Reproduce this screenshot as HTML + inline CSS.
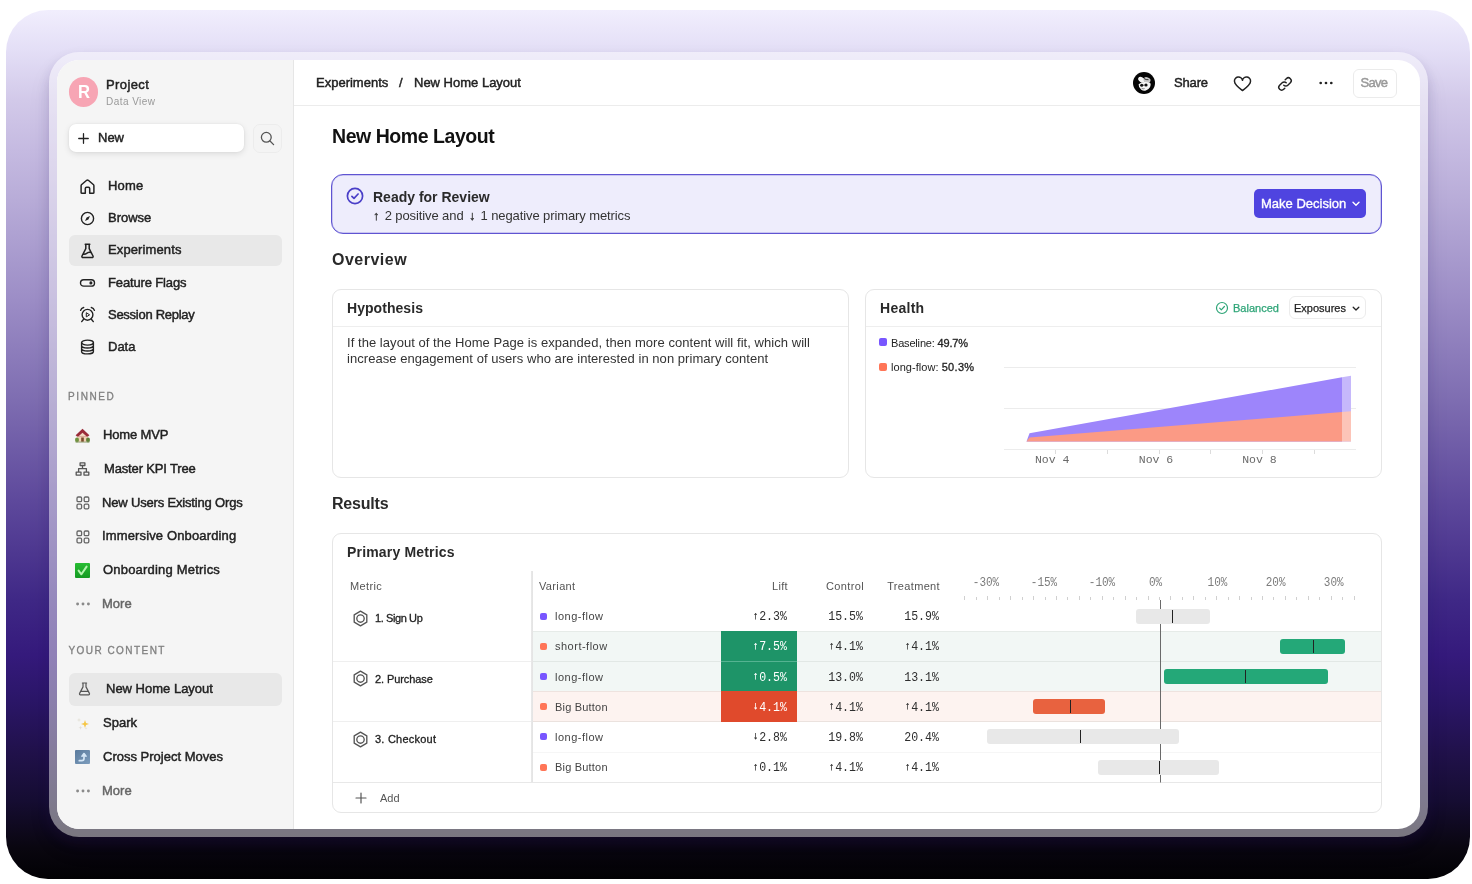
<!DOCTYPE html>
<html lang="en">
<head>
<meta charset="utf-8">
<title>New Home Layout</title>
<style>
*{box-sizing:border-box;margin:0;padding:0}
html,body{width:1472px;height:884px;overflow:hidden;background:#fff}
body{font-family:"Liberation Sans",sans-serif;color:#1f1f1f;position:relative}
.abs{position:absolute}
.bg{position:absolute;left:6px;top:10px;width:1464px;height:869px;border-radius:42px;
 background:linear-gradient(180deg,#f1eefd 0%,#e3def6 4.8%,#d2c9e9 10.4%,#c5bae1 16.1%,#b8acd8 21.9%,#9c8dc6 33.4%,#7e6db1 44.9%,#5e499c 56.4%,#3f2886 67.9%,#351a7c 74.2%,#2b1668 79.4%,#201149 85.8%,#160d33 90.9%,#09060f 96.5%,#020104 100%)}
.frame{position:absolute;left:49px;top:52px;width:1379px;height:785px;border-radius:30px;background:rgba(255,255,255,.45);box-shadow:0 7px 12px rgba(40,25,90,.17),0 12px 26px rgba(40,25,90,.06)}
.win{position:absolute;left:57px;top:60px;width:1363px;height:769px;border-radius:22px;background:#fff;overflow:hidden}
/* everything inside .win uses page coordinates via this shifted layer */
.pg{position:absolute;left:-57px;top:-60px;width:1472px;height:884px}
.side{position:absolute;left:57px;top:60px;width:237px;height:769px;background:#f5f5f5;border-right:1px solid #e6e6e6}
.t{position:absolute;white-space:nowrap;line-height:20px;height:20px}
.nav{font-size:13px;font-weight:400;color:#222;-webkit-text-stroke:.45px #222}
.sel{position:absolute;left:69px;width:213px;height:32px;border-radius:6px;background:#e8e8e8}
.lbl{font-size:10px;letter-spacing:1.6px;color:#808080;-webkit-text-stroke:.3px #808080}
.ic{position:absolute;overflow:visible}
.mono{font-family:"Liberation Mono",monospace}

.h2{font-size:16px;font-weight:700;color:#2a2a2a;letter-spacing:.2px}
.h3{font-size:14px;font-weight:700;color:#2a2a2a;letter-spacing:.05px}
.card{position:absolute;border:1px solid #e6e6e6;border-radius:9px;background:#fff}
.sm{font-size:11px;color:#555}
.num{font-family:"Liberation Mono",monospace;font-size:13px;color:#2e2e2e;text-align:right;transform:scaleX(.892);transform-origin:100% 50%;margin:1px 0 0 -.8px}
.ar{display:inline-block;width:7.8px;font-size:10.5px;text-align:center;position:relative;top:-1.6px;-webkit-text-stroke:.3px currentColor}
.sq{position:absolute;width:7px;height:7px;border-radius:2px}
.bar{position:absolute;height:15px;border-radius:3px}
.tk{position:absolute;width:1px;height:13px;background:#222}
</style>
</head>
<body>
<div class="bg"></div>
<div class="frame"></div>
<div class="win"><div class="pg">

<!-- ============ SIDEBAR ============ -->
<div class="side"></div>
<div class="abs" style="left:68.500px;top:77px;width:29.500px;height:29.500px;border-radius:50%;background:#f7a5b4"></div>
<div class="t" style="left:77.500px;top:81.500px;font-size:18.500px;font-weight:700;color:#fff;transform:scaleX(.9);transform-origin:0 0">R</div>
<div class="t nav" style="left:106px;top:75px;letter-spacing:.4px">Project</div>
<div class="t" style="left:106px;top:92px;font-size:10px;color:#999;letter-spacing:.45px">Data View</div>

<div class="abs" style="left:69px;top:124px;width:175px;height:28px;border-radius:7px;background:#fff;box-shadow:0 2px 6px rgba(0,0,0,.10),0 0 2px rgba(0,0,0,.08)"></div>
<div class="t nav" style="left:98px;top:128px">New</div>
<div class="abs" style="left:252.500px;top:124px;width:29px;height:29px;border-radius:7px;background:#f4f4f4;border:1px solid #ececec"></div>

<div class="sel" style="top:235px;height:31px"></div>
<div class="t nav" style="left:108px;top:176px;letter-spacing:.2px">Home</div>
<div class="t nav" style="left:108px;top:208px">Browse</div>
<div class="t nav" style="left:108px;top:240px;letter-spacing:.12px">Experiments</div>
<div class="t nav" style="left:108px;top:273px;letter-spacing:-.14px">Feature Flags</div>
<div class="t nav" style="left:108px;top:305px;letter-spacing:-.27px">Session Replay</div>
<div class="t nav" style="left:108px;top:337px">Data</div>

<div class="t lbl" style="left:68px;top:387px">PINNED</div>
<div class="t nav" style="left:103px;top:425px;letter-spacing:-.15px">Home MVP</div>
<div class="t nav" style="left:104px;top:459px;letter-spacing:-.15px">Master KPI Tree</div>
<div class="t nav" style="left:102px;top:493px;letter-spacing:-.17px">New Users Existing Orgs</div>
<div class="t nav" style="left:102px;top:526px;letter-spacing:.14px">Immersive Onboarding</div>
<div class="t nav" style="left:103px;top:560px;letter-spacing:.2px">Onboarding Metrics</div>
<div class="t nav" style="left:102px;top:594px;color:#666;-webkit-text-stroke-color:#666">More</div>

<div class="t lbl" style="left:68.500px;top:641px;letter-spacing:1.45px">YOUR CONTENT</div>
<div class="sel" style="top:672.500px;height:33px"></div>
<div class="t nav" style="left:106px;top:679px">New Home Layout</div>
<div class="t nav" style="left:103px;top:713px">Spark</div>
<div class="t nav" style="left:103px;top:747px">Cross Project Moves</div>
<div class="t nav" style="left:102px;top:781px;color:#666;-webkit-text-stroke-color:#666">More</div>

<!-- ============ TOPBAR ============ -->
<div class="abs" style="left:294px;top:105px;width:1126px;height:1px;background:#ececec"></div>
<div class="t nav" style="left:316px;top:73px">Experiments</div>
<div class="t nav" style="left:399px;top:73px">/</div>
<div class="t nav" style="left:414px;top:73px">New Home Layout</div>
<div class="abs" style="left:1132.700px;top:71.900px;width:22.400px;height:22.400px;border-radius:50%;background:#050505"></div>
<div class="t nav" style="left:1174px;top:73px;letter-spacing:-.15px">Share</div>
<div class="abs" style="left:1353px;top:69px;width:43.500px;height:29px;border-radius:6px;border:1px solid #ebebeb;background:#fff"></div>
<div class="t nav" style="left:1360.500px;top:73px;color:#999;-webkit-text-stroke-color:#999;letter-spacing:-.7px">Save</div>


<!-- sidebar icons -->
<svg class="ic" style="left:78px;top:132.500px" width="11" height="11" viewBox="0 0 12 12"><path d="M6 .8v10.4M.8 6h10.4" stroke="#222" stroke-width="1.4" stroke-linecap="round" fill="none"/></svg>
<svg class="ic" style="left:260px;top:131px" width="15" height="15" viewBox="0 0 15 15"><circle cx="6.3" cy="6.3" r="4.9" stroke="#555" stroke-width="1.3" fill="none"/><path d="M10 10l3.6 3.6" stroke="#555" stroke-width="1.3" stroke-linecap="round"/></svg>

<svg class="ic" style="left:79px;top:178px" width="17" height="17" viewBox="0 0 17 17"><path d="M2.100 7.700Q2.100 7 2.700 6.500L7.700 2.300Q8.500 1.700 9.300 2.300L14.300 6.500Q14.900 7 14.900 7.700V14.400Q14.900 15.300 14 15.300H10.700V10.500Q10.700 9.300 9.500 9.300H7.500Q6.300 9.300 6.300 10.500V15.300H3Q2.100 15.300 2.100 14.400Z" stroke="#222" stroke-width="1.500" stroke-linejoin="round" fill="none"/></svg>
<svg class="ic" style="left:80px;top:211px" width="15" height="15" viewBox="0 0 15 15"><circle cx="7.5" cy="7.5" r="6.1" stroke="#222" stroke-width="1.4" fill="none"/><path d="M10 5 8.4 8.4 5 10 6.6 6.6z" fill="#222"/></svg>
<svg class="ic" style="left:80px;top:243px" width="15" height="16" viewBox="0 0 15 16"><path d="M5.2 1.2h4.6M5.8 1.4v4.3L2 13a1.1 1.1 0 0 0 1 1.6h9a1.1 1.1 0 0 0 1-1.6L9.200 5.700V1.400M3.500 11.200c2.400.2 3.300-1 4.200-1.500 1-.6 2.200-.5 3.200-.3" stroke="#222" stroke-width="1.5" stroke-linejoin="round" stroke-linecap="round" fill="none"/></svg>
<svg class="ic" style="left:79px;top:278px" width="17" height="10" viewBox="0 0 17 10"><rect x="1.500" y="1.700" width="14" height="6.400" rx="3.200" stroke="#222" stroke-width="1.400" fill="none"/><circle cx="11.900" cy="4.900" r="1.550" fill="#222"/></svg>
<svg class="ic" style="left:79px;top:306px" width="17" height="17" viewBox="0 0 17 17"><circle cx="8.500" cy="8.800" r="5.400" stroke="#222" stroke-width="1.400" fill="none"/><path d="M7.300 6.700v4.200l3.300-2.100z" stroke="#222" stroke-width="1" stroke-linejoin="round" fill="none"/><path d="M1.600 4.400A4 4 0 0 1 4.700 1.500M15.400 4.400A4 4 0 0 0 12.300 1.500M4.600 13.200 2.700 15.600M12.400 13.200l1.900 2.400" stroke="#222" stroke-width="1.400" stroke-linecap="round" fill="none"/></svg>
<svg class="ic" style="left:80px;top:339px" width="15" height="16" viewBox="0 0 15 16"><ellipse cx="7.500" cy="3.600" rx="5.900" ry="2.500" stroke="#222" stroke-width="1.400" fill="none"/><path d="M1.600 3.600v8.800c0 1.400 2.600 2.500 5.900 2.500s5.900-1.100 5.900-2.500V3.600M1.600 6.500c0 1.400 2.600 2.500 5.900 2.500s5.900-1.100 5.900-2.500M1.600 9.500c0 1.400 2.600 2.500 5.900 2.500s5.900-1.100 5.900-2.500" stroke="#222" stroke-width="1.400" fill="none"/></svg>

<!-- pinned icons -->
<svg class="ic" style="left:75px;top:427.500px" width="15" height="15" viewBox="0 0 15 15"><path d="M2.200 13.800V7h10.600v6.800z" fill="#efd0b4"/><path d="M.6 7.200 7.500.8l6.900 6.400-1.400 1.300H2z" fill="#9a2c3a"/><path d="M3.300 8.500 7.500 4.800l4.200 3.700z" fill="#f2d9c2"/><rect x="6.200" y="9.500" width="2.600" height="4.300" fill="#7b4a2c"/><ellipse cx="2" cy="12" rx="2" ry="2.400" fill="#6f9340"/><ellipse cx="13" cy="12" rx="2" ry="2.400" fill="#5f8238"/><rect x=".5" y="13.600" width="14" height=".9" fill="#8a9a6a"/></svg>
<svg class="ic" style="left:75px;top:461px" width="15" height="16" viewBox="0 0 15 16"><path d="M5.100 1.900h4.800v2.600H5.100zM1.200 11.100h4.800v3H1.200zM9 11.100h4.800v3H9zM7.500 4.500v3.100M3.600 11.100V7.600h7.800v3.500" stroke="#555" stroke-width="1.300" stroke-linejoin="round" fill="none"/></svg>
<svg class="ic" style="left:76px;top:496px" width="14" height="14" viewBox="0 0 14 14"><g stroke="#666" stroke-width="1.300" fill="none"><rect x="1" y="1" width="4.600" height="4.600" rx="1.200"/><rect x="8.200" y="1" width="4.600" height="4.600" rx="1.200"/><rect x="1" y="8.200" width="4.600" height="4.600" rx="1.200"/><rect x="8.200" y="8.200" width="4.600" height="4.600" rx="1.200"/></g></svg>
<svg class="ic" style="left:76px;top:530px" width="14" height="14" viewBox="0 0 14 14"><g stroke="#666" stroke-width="1.300" fill="none"><rect x="1" y="1" width="4.600" height="4.600" rx="1.200"/><rect x="8.200" y="1" width="4.600" height="4.600" rx="1.200"/><rect x="1" y="8.200" width="4.600" height="4.600" rx="1.200"/><rect x="8.200" y="8.200" width="4.600" height="4.600" rx="1.200"/></g></svg>
<svg class="ic" style="left:75px;top:563px" width="15" height="15" viewBox="0 0 15 15"><defs><linearGradient id="gk" x1="0" y1="0" x2="0" y2="1"><stop offset="0" stop-color="#27bd33"/><stop offset="1" stop-color="#159a22"/></linearGradient></defs><rect width="15" height="15" rx="1" fill="url(#gk)"/><path d="M3.600 7.600 6.400 11.300 11.600 3.600" stroke="#b4f4ae" stroke-width="2" fill="none" stroke-linecap="round" stroke-linejoin="round"/></svg>
<svg class="ic" style="left:76px;top:602px" width="14" height="4" viewBox="0 0 14 4"><g fill="#8a8a8a"><circle cx="1.600" cy="2" r="1.450"/><circle cx="7" cy="2" r="1.450"/><circle cx="12.400" cy="2" r="1.450"/></g></svg>

<!-- your content icons -->
<svg class="ic" style="left:78px;top:682px" width="13" height="14" viewBox="0 0 13 14"><path d="M4.400 1h4.200M5 1.200v3.700L1.600 11.400a1 1 0 0 0 .9 1.500h8a1 1 0 0 0 .9-1.500L8 4.900V1.200M3 9.300h7" stroke="#555" stroke-width="1.200" stroke-linejoin="round" stroke-linecap="round" fill="none"/></svg>
<svg class="ic" style="left:76px;top:717px" width="14" height="14" viewBox="0 0 14 14"><path d="M9 3 10 6 13 7 10 8 9 11 8 8 5 7 8 6z" fill="#f6c644"/><path d="M3 .8 3.500 2.500 5.200 3 3.500 3.500 3 5.200 2.500 3.500.8 3 2.500 2.500z" fill="#e4e1d6"/><path d="M4.500 8.800 5 10.300 6.500 10.800 5 11.300 4.500 12.800 4 11.300 2.500 10.800 4 10.300z" fill="#e2dfd6"/><path d="M10 9.800 10.400 10.900 11.500 11.300 10.400 11.700 10 12.800 9.600 11.700 8.500 11.300 9.600 10.900z" fill="#e6e3da"/></svg>
<svg class="ic" style="left:75px;top:750px" width="15" height="14" viewBox="0 0 15 14"><defs><linearGradient id="gb" x1="0" y1="0" x2="1" y2="1"><stop offset="0" stop-color="#5a7a9c"/><stop offset="1" stop-color="#7d9dbd"/></linearGradient></defs><rect width="15" height="14" rx="1" fill="url(#gb)"/><path d="M4.300 10.700h2.500c1.600 0 2.200-1 2.200-2.200V4.500M7 6.200 9 3.600l2 2.600" stroke="#d4e6f6" stroke-width="1.700" fill="none" stroke-linecap="round" stroke-linejoin="round"/></svg>
<svg class="ic" style="left:76px;top:788.700px" width="14" height="4" viewBox="0 0 14 4"><g fill="#8a8a8a"><circle cx="1.600" cy="2" r="1.450"/><circle cx="7" cy="2" r="1.450"/><circle cx="12.400" cy="2" r="1.450"/></g></svg>

<!-- topbar icons -->
<svg class="ic" style="left:1132.500px;top:71.800px" width="23" height="23" viewBox="0 0 23 23"><ellipse cx="8.600" cy="7.800" rx="3.700" ry="2.500" transform="rotate(32 8.600 7.800)" fill="#f4f4f4"/><ellipse cx="14" cy="8" rx="3.600" ry="2.700" transform="rotate(20 14 8)" fill="#c9c9c9"/><path d="M11 6.500q2 1.500 4.500 1.200" stroke="#0a0a0a" stroke-width=".8" fill="none"/><path d="M5.600 12.300q-.2 3.200 2.700 5.500 2.100 1.500 4.600.7 2.700-1 4.200-3.600 1.100-2.100.2-3.900-3-1.600-6.300-.9-3 .6-5.400 2.200z" fill="#f5f5f5"/><circle cx="8.700" cy="13.300" r="1.550" fill="#111"/><circle cx="13" cy="13" r="1.600" fill="#111"/><path d="M10.200 13.100h1.300" stroke="#111" stroke-width=".7"/><path d="M8.600 16.300q1.500 1 3 .3" stroke="#555" stroke-width=".7" fill="none"/></svg>
<svg class="ic" style="left:1233px;top:75.800px" width="19" height="16.200" viewBox="0 0 19 17" preserveAspectRatio="none"><path d="M9.500 15.300C5 11.700 1.500 8.900 1.500 5.700a3.900 3.900 0 0 1 8-1.200 3.900 3.900 0 0 1 8 1.200c0 3.200-3.500 6-8 9.600z" stroke="#222" stroke-width="1.500" stroke-linejoin="round" fill="none"/></svg>
<svg class="ic" style="left:1276.500px;top:75.500px" width="16" height="16" viewBox="0 0 17 17"><path d="M7.200 9.800a3 3 0 0 0 4.300 0l2.700-2.700a3 3 0 0 0-4.300-4.300L8.700 4M9.800 7.200a3 3 0 0 0-4.300 0L2.800 9.900a3 3 0 0 0 4.300 4.300L8.300 13" stroke="#222" stroke-width="1.500" stroke-linecap="round" fill="none"/></svg>
<svg class="ic" style="left:1319px;top:81px" width="14" height="4" viewBox="0 0 14 4"><g fill="#222"><circle cx="1.700" cy="2" r="1.350"/><circle cx="7" cy="2" r="1.350"/><circle cx="12.300" cy="2" r="1.350"/></g></svg>


<!-- ============ MAIN ============ -->
<div class="t" style="left:332px;top:126px;font-size:19.5px;font-weight:700;color:#111;letter-spacing:-.45px">New Home Layout</div>

<div class="abs" style="left:331px;top:174px;width:1051px;height:60px;border-radius:12px;background:#eeedfc;border:1px solid #5f54d2;box-shadow:inset 0 0 0 .5px rgba(95,84,210,.5)"></div>
<svg class="ic" style="left:346px;top:187px" width="18" height="18" viewBox="0 0 18 18"><circle cx="9" cy="9" r="7.600" stroke="#4a3fc8" stroke-width="1.700" fill="none"/><path d="M5.900 9.300 8 11.400 12.100 7" stroke="#4a3fc8" stroke-width="1.700" fill="none" stroke-linecap="round" stroke-linejoin="round"/></svg>
<div class="t" style="left:373px;top:187px;font-size:14px;font-weight:700;color:#2a2a2a">Ready for Review</div>
<div class="t" style="left:373px;top:206px;font-size:13px;color:#333;letter-spacing:-.1px"><span style="display:inline-block;width:11.7px;font-size:12.500px;letter-spacing:0;-webkit-text-stroke:.35px #333;position:relative;top:-.5px">&#8593;</span>2 positive and<span style="display:inline-block;width:17px;text-align:center;font-size:12.500px;letter-spacing:0;-webkit-text-stroke:.35px #333;position:relative;top:-.5px">&#8595;</span>1 negative primary metrics</div>
<div class="abs" style="left:1254px;top:189px;width:112px;height:29px;border-radius:5px;background:#4f44e0"></div>
<div class="t" style="left:1261px;top:194px;font-size:13px;color:#fff;-webkit-text-stroke:.35px #fff">Make Decision</div>
<svg class="ic" style="left:1352px;top:201px" width="8" height="6" viewBox="0 0 8 6"><path d="M1 1.200 4 4.200 7 1.200" stroke="#fff" stroke-width="1.400" fill="none" stroke-linecap="round" stroke-linejoin="round"/></svg>

<div class="t h2" style="left:332px;top:250px;letter-spacing:.5px">Overview</div>

<!-- hypothesis -->
<div class="card" style="left:332px;top:289px;width:517px;height:189px"></div>
<div class="abs" style="left:333px;top:326px;width:515px;height:1px;background:#eeeeee"></div>
<div class="t h3" style="left:347px;top:298px">Hypothesis</div>
<div class="t" style="left:347px;top:335px;font-size:13px;color:#333;line-height:16px;height:auto;white-space:normal;width:480px;letter-spacing:.05px">If the layout of the Home Page is expanded, then more content will fit, which will<br>increase engagement of users who are interested in non primary content</div>

<!-- health -->
<div class="card" style="left:865px;top:289px;width:517px;height:189px"></div>
<div class="abs" style="left:866px;top:326px;width:515px;height:1px;background:#eeeeee"></div>
<div class="t h3" style="left:880px;top:298px;letter-spacing:.27px">Health</div>
<svg class="ic" style="left:1215px;top:301px" width="14" height="14" viewBox="0 0 14 14"><circle cx="7" cy="7" r="5.500" stroke="#2fa578" stroke-width="1.200" fill="none"/><path d="M4.700 7.200 6.300 8.800 9.400 5.500" stroke="#2fa578" stroke-width="1.200" fill="none" stroke-linecap="round" stroke-linejoin="round"/></svg>
<div class="t" style="left:1233px;top:298px;font-size:11px;color:#2fa578;-webkit-text-stroke:.25px #2fa578">Balanced</div>
<div class="abs" style="left:1289px;top:296px;width:77px;height:23px;border-radius:6px;border:1px solid #ececec;background:#fff"></div>
<div class="t" style="left:1294px;top:298px;font-size:11px;color:#222;-webkit-text-stroke:.25px #222">Exposures</div>
<svg class="ic" style="left:1352px;top:306px" width="8" height="6" viewBox="0 0 8 6"><path d="M1.200 1.200 4 4 6.800 1.200" stroke="#222" stroke-width="1.300" fill="none" stroke-linecap="round" stroke-linejoin="round"/></svg>
<div class="sq" style="left:879px;top:338px;width:7.500px;height:7.500px;background:#7856ff"></div>
<div class="t" style="left:891px;top:333px;font-size:11px;color:#222;letter-spacing:-.18px">Baseline: <span style="-webkit-text-stroke:.3px #222">49.7%</span></div>
<div class="sq" style="left:879px;top:363px;width:7.500px;height:7.500px;background:#ff7557"></div>
<div class="t" style="left:891px;top:357px;font-size:11px;color:#222;letter-spacing:.05px">long-flow: <span style="-webkit-text-stroke:.3px #222;letter-spacing:.3px">50.3%</span></div>
<svg class="ic" style="left:995px;top:360px" width="370" height="110" viewBox="995 360 370 110">
 <g stroke="#ececec" stroke-width="1"><path d="M1004 367.500H1356M1004 408.500H1356M1004 449.500H1356"/></g>
 <g stroke="#dcdcdc" stroke-width="1"><path d="M1055.500 450v4M1107.500 450v4M1159.500 450v4M1210.500 450v4M1262.500 450v4M1314.500 450v4"/></g>
 <path d="M1026.500 441.500 L1029.500 433.300 L1342 377.200 L1342 441.500Z" fill="#9d85fb"/>
 <path d="M1342 377.200 L1351 375.700 L1351 441.500 L1342 441.500Z" fill="#c6b8fb"/>
 <path d="M1026.500 441.500 L1029.500 437.600 L1342 412 L1342 441.500Z" fill="#fb9a85"/>
 <path d="M1342 412 L1351 411.200 L1351 441.500 L1342 441.500Z" fill="#fcc4b8"/>
 <g font-family="Liberation Mono, monospace" font-size="11.500" fill="#6a6a6a" text-anchor="middle"><text x="1052.200" y="463">Nov 4</text><text x="1156" y="463">Nov 6</text><text x="1259.400" y="463">Nov 8</text></g>
</svg>

<div class="t h2" style="left:332px;top:494px;letter-spacing:-.2px">Results</div>
<div class="card" style="left:332px;top:533px;width:1050px;height:280px"></div>
<div class="t h3" style="left:347px;top:542px;letter-spacing:.18px">Primary Metrics</div>
<div class="abs" style="left:532px;top:631px;width:849px;height:60px;background:#f2f7f5"></div>
<div class="abs" style="left:532px;top:691px;width:849px;height:31px;background:#fdf3f0"></div>
<div class="abs" style="left:532px;top:631px;width:849px;height:1px;background:#e6ebe8"></div>
<div class="abs" style="left:532px;top:661px;width:849px;height:1px;background:#e2e8e5"></div>
<div class="abs" style="left:532px;top:691px;width:849px;height:1px;background:#eee3df"></div>
<div class="abs" style="left:532px;top:721px;width:849px;height:1px;background:#ebe2de"></div>
<div class="abs" style="left:532px;top:752px;width:849px;height:1px;background:#f6f6f6"></div>
<div class="abs" style="left:333px;top:661px;width:199px;height:1px;background:#efefef"></div>
<div class="abs" style="left:333px;top:721px;width:199px;height:1px;background:#efefef"></div>
<div class="abs" style="left:333px;top:782px;width:1048px;height:1px;background:#e8e8e8"></div>
<div class="abs" style="left:531px;top:571px;width:2px;height:211px;background:linear-gradient(90deg,#e9e9e9,#e3e3e3)"></div>
<div class="abs" style="left:721px;top:631px;width:76px;height:60px;background:#1e9468"></div>
<div class="abs" style="left:721px;top:661px;width:76px;height:1px;background:#55b391"></div>
<div class="abs" style="left:721px;top:691px;width:76px;height:31px;background:#e04a2c"></div>
<div class="t sm" style="left:350px;top:576px;letter-spacing:.35px">Metric</div>
<div class="t sm" style="left:539px;top:576px;letter-spacing:.35px">Variant</div>
<div class="t sm" style="left:688px;width:100px;text-align:right;top:576px;letter-spacing:.35px">Lift</div>
<div class="t sm" style="left:764px;width:100px;text-align:right;top:576px;letter-spacing:.35px">Control</div>
<div class="t sm" style="left:840px;width:100px;text-align:right;top:576px;letter-spacing:.35px">Treatment</div>
<svg class="ic" style="left:352px;top:609.5px" width="17" height="17" viewBox="0 0 17 17"><path d="M8.500 1.200 14.800 4.800V12.200L8.500 15.800 2.200 12.200V4.800z" stroke="#555" stroke-width="1.350" stroke-linejoin="round" fill="none"/><circle cx="8.500" cy="8.500" r="3.700" stroke="#555" stroke-width="1.350" fill="none"/></svg>
<div class="t" style="left:375px;top:608px;font-size:11px;color:#222;-webkit-text-stroke:.3px #222;letter-spacing:-.4px">1. Sign Up</div>
<svg class="ic" style="left:352px;top:670.0px" width="17" height="17" viewBox="0 0 17 17"><path d="M8.500 1.200 14.800 4.800V12.200L8.500 15.800 2.200 12.200V4.800z" stroke="#555" stroke-width="1.350" stroke-linejoin="round" fill="none"/><circle cx="8.500" cy="8.500" r="3.700" stroke="#555" stroke-width="1.350" fill="none"/></svg>
<div class="t" style="left:375px;top:668.5px;font-size:11px;color:#222;-webkit-text-stroke:.3px #222;letter-spacing:-.08px">2. Purchase</div>
<svg class="ic" style="left:352px;top:730.5px" width="17" height="17" viewBox="0 0 17 17"><path d="M8.500 1.200 14.800 4.800V12.200L8.500 15.800 2.200 12.200V4.800z" stroke="#555" stroke-width="1.350" stroke-linejoin="round" fill="none"/><circle cx="8.500" cy="8.500" r="3.700" stroke="#555" stroke-width="1.350" fill="none"/></svg>
<div class="t" style="left:375px;top:729px;font-size:11px;color:#222;-webkit-text-stroke:.3px #222;letter-spacing:.23px">3. Checkout</div>
<div class="sq" style="left:540px;top:612.6px;background:#7856ff"></div>
<div class="t sm" style="left:555px;top:606.1px;color:#444;letter-spacing:0.5px">long-flow</div>
<div class="t num" style="left:688px;width:100px;top:606.1px"><span class="ar">&#8593;</span>2.3%</div>
<div class="t num" style="left:764px;width:100px;top:606.1px">15.5%</div>
<div class="t num" style="left:840px;width:100px;top:606.1px">15.9%</div>
<div class="sq" style="left:540px;top:642.8px;background:#ff7557"></div>
<div class="t sm" style="left:555px;top:636.3px;color:#444;letter-spacing:0.5px">short-flow</div>
<div class="t num" style="left:688px;width:100px;top:636.3px;color:#fff"><span class="ar">&#8593;</span>7.5%</div>
<div class="t num" style="left:764px;width:100px;top:636.3px"><span class="ar">&#8593;</span>4.1%</div>
<div class="t num" style="left:840px;width:100px;top:636.3px"><span class="ar">&#8593;</span>4.1%</div>
<div class="sq" style="left:540px;top:673.0px;background:#7856ff"></div>
<div class="t sm" style="left:555px;top:666.5px;color:#444;letter-spacing:0.5px">long-flow</div>
<div class="t num" style="left:688px;width:100px;top:666.5px;color:#fff"><span class="ar">&#8593;</span>0.5%</div>
<div class="t num" style="left:764px;width:100px;top:666.5px">13.0%</div>
<div class="t num" style="left:840px;width:100px;top:666.5px">13.1%</div>
<div class="sq" style="left:540px;top:703.2px;background:#ff7557"></div>
<div class="t sm" style="left:555px;top:696.7px;color:#444;letter-spacing:0.2px">Big Button</div>
<div class="t num" style="left:688px;width:100px;top:696.7px;color:#fff"><span class="ar">&#8595;</span>4.1%</div>
<div class="t num" style="left:764px;width:100px;top:696.7px"><span class="ar">&#8593;</span>4.1%</div>
<div class="t num" style="left:840px;width:100px;top:696.7px"><span class="ar">&#8593;</span>4.1%</div>
<div class="sq" style="left:540px;top:733.4px;background:#7856ff"></div>
<div class="t sm" style="left:555px;top:726.9px;color:#444;letter-spacing:0.5px">long-flow</div>
<div class="t num" style="left:688px;width:100px;top:726.9px"><span class="ar">&#8595;</span>2.8%</div>
<div class="t num" style="left:764px;width:100px;top:726.9px">19.8%</div>
<div class="t num" style="left:840px;width:100px;top:726.9px">20.4%</div>
<div class="sq" style="left:540px;top:763.6px;background:#ff7557"></div>
<div class="t sm" style="left:555px;top:757.1px;color:#444;letter-spacing:0.2px">Big Button</div>
<div class="t num" style="left:688px;width:100px;top:757.1px"><span class="ar">&#8593;</span>0.1%</div>
<div class="t num" style="left:764px;width:100px;top:757.1px"><span class="ar">&#8593;</span>4.1%</div>
<div class="t num" style="left:840px;width:100px;top:757.1px"><span class="ar">&#8593;</span>4.1%</div>
<svg class="ic" style="left:355px;top:792px" width="12" height="12" viewBox="0 0 12 12"><path d="M6 1v10M1 6h10" stroke="#555" stroke-width="1.200" stroke-linecap="round"/></svg>
<div class="t sm" style="left:380px;top:788px;color:#555">Add</div>
<svg class="ic" style="left:955px;top:570px" width="420" height="215" viewBox="955 570 420 215"><g font-family="Liberation Mono, monospace" font-size="12.400" fill="#7c7c7c" text-anchor="middle"><text transform="translate(986 586.300) scale(.89 1)">-30%</text><text transform="translate(1044 586.300) scale(.89 1)">-15%</text><text transform="translate(1102 586.300) scale(.89 1)">-10%</text><text transform="translate(1155.6 586.300) scale(.89 1)">0%</text><text transform="translate(1217.5 586.300) scale(.89 1)">10%</text><text transform="translate(1275.6 586.300) scale(.89 1)">20%</text><text transform="translate(1333.7 586.300) scale(.89 1)">30%</text></g><path d="M964.5 596v4M976.5 597v3M987.5 596v4M999.5 597v3M1010.5 596v4M1022.5 597v3M1033.5 596v4M1045.5 597v3M1056.5 596v4M1067.5 597v3M1079.5 596v4M1090.5 597v3M1102.5 596v4M1113.5 597v3M1125.5 596v4M1136.5 597v3M1148.5 596v4M1159.5 597v3M1170.5 596v4M1182.5 597v3M1193.5 596v4M1205.5 597v3M1216.5 596v4M1228.5 597v3M1239.5 596v4M1251.5 597v3M1262.5 596v4M1273.5 597v3M1285.5 596v4M1296.5 597v3M1308.5 596v4M1319.5 597v3M1331.5 596v4M1342.5 597v3M1354.5 596v4" stroke="#d0d0d0" stroke-width="1"/><path d="M1160.500 600V782.500" stroke="#6a6a6a" stroke-width="1"/></svg>
<div class="bar" style="left:1136px;top:608.6px;width:74px;background:#e8e8e8"></div>
<div class="tk" style="left:1172.0px;top:609.6px"></div>
<div class="bar" style="left:1280.3px;top:638.8px;width:64.7px;background:#24a878"></div>
<div class="tk" style="left:1312.9px;top:639.8px"></div>
<div class="bar" style="left:1163.7px;top:669.0px;width:164.1px;background:#24a878"></div>
<div class="tk" style="left:1245.1px;top:670.0px"></div>
<div class="bar" style="left:1032.8px;top:699.2px;width:72.2px;background:#e8623f"></div>
<div class="tk" style="left:1070.1px;top:700.2px"></div>
<div class="bar" style="left:986.6px;top:729.4px;width:192.1px;background:#e8e8e8"></div>
<div class="tk" style="left:1080.1px;top:730.4px"></div>
<div class="bar" style="left:1097.8px;top:759.6px;width:120.9px;background:#e8e8e8"></div>
<div class="tk" style="left:1158.9px;top:760.6px"></div>


</div></div>
</body>
</html>
